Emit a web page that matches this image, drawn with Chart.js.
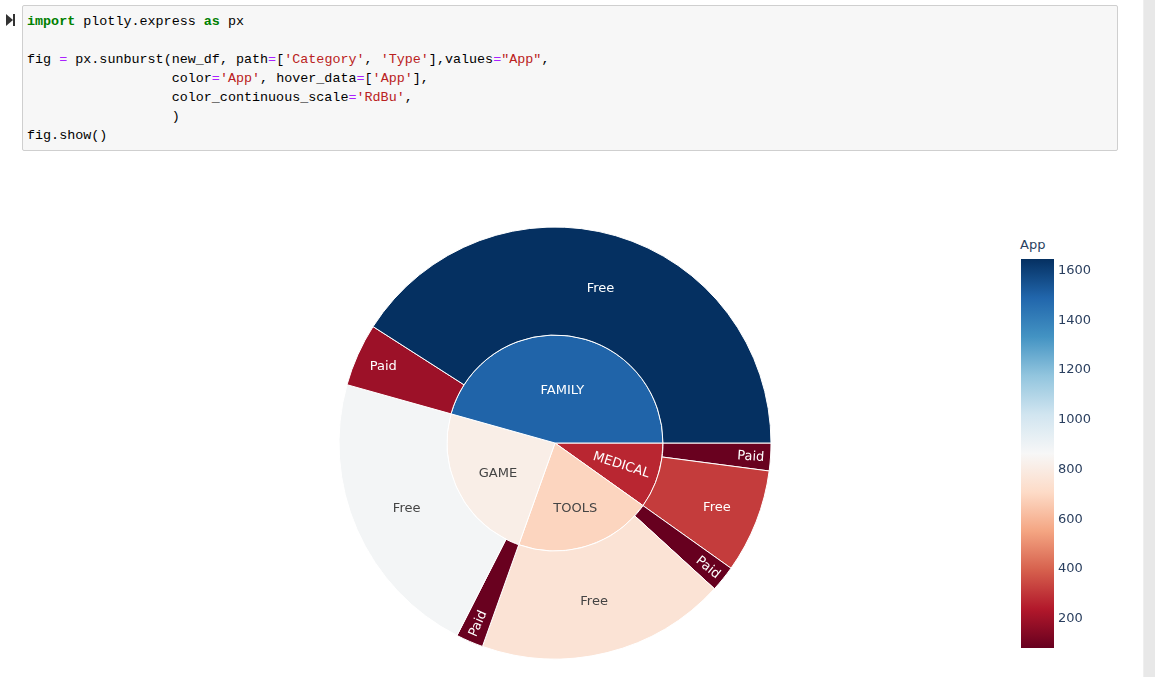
<!DOCTYPE html>
<html>
<head>
<meta charset="utf-8">
<script src="https://cdn.jsdelivr.net/npm/chart.js@4/dist/chart.umd.min.js"></script>
<style>
  html, body { margin:0; padding:0; background:#fff; }
  body { width:1155px; height:677px; overflow:hidden; position:relative; font-family:"DejaVu Sans", sans-serif; }
  #scroll { position:absolute; left:1143px; top:0; width:12px; height:677px; background:#e8e8e8; border-left:1px solid #efefef; box-sizing:border-box; }
  #cell { position:absolute; left:22px; top:5px; width:1096px; height:146px; background:#f7f7f7; border:1px solid #cfcfcf; border-radius:2px; box-sizing:border-box; }
  #code { position:absolute; left:4px; top:6px; margin:0; font-family:"Liberation Mono", monospace; font-size:13.4px; line-height:19px; color:#000; white-space:pre; }
  .k { color:#008000; font-weight:bold; }
  .o { color:#aa22ff; }
  .s { color:#ba2121; }
  #runicon { position:absolute; left:6px; top:14px; width:10px; height:12px; }
  #runicon .tri { position:absolute; left:0; top:0; width:0; height:0; border-top:6px solid transparent; border-bottom:6px solid transparent; border-left:7px solid #333; }
  #runicon .bar { position:absolute; left:7px; top:0; width:2px; height:12px; background:#333; }
  #sun { position:absolute; left:325px; top:213px; width:460px; height:460px; }
  #cbar { position:absolute; left:1000px; top:240px; width:100px; height:440px; }
  #cbtitle { position:absolute; left:1020px; top:237px; font-family:"DejaVu Sans", sans-serif; font-size:13px; color:#2a3f5f; }
</style>
</head>
<body>
<div id="runicon"><div class="tri"></div><div class="bar"></div></div>
<div id="cell"><pre id="code"><span class="k">import</span> plotly.express <span class="k">as</span> px

fig <span class="o">=</span> px.sunburst(new_df, path<span class="o">=</span>[<span class="s">'Category'</span>, <span class="s">'Type'</span>],values<span class="o">=</span><span class="s">"App"</span>,
                  color<span class="o">=</span><span class="s">'App'</span>, hover_data<span class="o">=</span>[<span class="s">'App'</span>],
                  color_continuous_scale<span class="o">=</span><span class="s">'RdBu'</span>,
                  )
fig.show()</pre></div>
<div id="scroll"></div>
<canvas id="sun" width="460" height="460"></canvas>
<div id="cbtitle">App</div>
<canvas id="cbar" width="100" height="440"></canvas>
<script>
// ---- data ----
const categories = ['FAMILY', 'GAME', 'TOOLS', 'MEDICAL'];
const types = ['Free', 'Paid'];
const freeApps = [1643, 877, 749, 312];
const paidApps = [189, 82, 78, 83];
const colorbarTicks = [200, 400, 600, 800, 1000, 1200, 1400, 1600];
const colorbarTitle = 'App';

// ---- RdBu colour scale ----
const RDBU = [[103,0,31],[178,24,43],[214,96,77],[244,165,130],[253,219,199],[247,247,247],[209,229,240],[146,197,222],[67,147,195],[33,102,172],[5,48,97]];

// parent values and colour values (weighted mean as plotly express does)
const catTotals = categories.map((c, i) => freeApps[i] + paidApps[i]);
const catColorVals = categories.map((c, i) => (freeApps[i] * freeApps[i] + paidApps[i] * paidApps[i]) / catTotals[i]);
const allColorVals = freeApps.concat(paidApps, catColorVals);
const cmin = Math.min(...allColorVals);
const cmax = Math.max(...allColorVals);

function rgbAt(t) {
  t = Math.max(0, Math.min(1, t));
  const pos = t * 10;
  let i = Math.floor(pos); if (i > 9) i = 9;
  const f = pos - i;
  const a = RDBU[i], b = RDBU[i + 1];
  return [0,1,2].map(k => Math.round(a[k] + (b[k] - a[k]) * f));
}
function colorFor(v) {
  const c = rgbAt((v - cmin) / (cmax - cmin));
  return 'rgb(' + c.join(',') + ')';
}
function textColorFor(v) {
  const c = rgbAt((v - cmin) / (cmax - cmin));
  const br = (c[0] * 299 + c[1] * 587 + c[2] * 114) / 1000;
  return br >= 128 ? '#444' : '#fff';
}

// Chart.js draws clockwise; plotly goes counter-clockwise from 3 o'clock -> reverse order
const order = categories.map((c, i) => i).reverse();
const innerValues = order.map(i => catTotals[i]);
const innerLabels = order.map(i => categories[i]);
const innerColorVals = order.map(i => catColorVals[i]);
const outerValues = [], outerLabels = [], outerColorVals = [];
order.forEach(i => {
  outerValues.push(paidApps[i]); outerLabels.push(types[1]); outerColorVals.push(paidApps[i]);
  outerValues.push(freeApps[i]); outerLabels.push(types[0]); outerColorVals.push(freeApps[i]);
});

// ---- label plugin emulating plotly's inside-text placement ----
const TEXTPAD = 3;
function maxHalf(a, halfAngle, r, ring) {
  const q = a + 1 / (2 * Math.tan(halfAngle));
  return r * Math.min(1 / (Math.sqrt(q * q + 0.5) + q), ring / (Math.sqrt(a * a + ring / 2) + a));
}
function normRot(deg) { return (((deg % 180) + 180 + 90) % 180) - 90; }

const sunLabels = {
  id: 'sunLabels',
  afterDatasetsDraw(chart) {
    const ctx = chart.ctx;
    const fontSize = 13;
    chart.data.datasets.forEach((ds, di) => {
      const meta = chart.getDatasetMeta(di);
      meta.data.forEach((arc, i) => {
        const p = arc.getProps(['x','y','startAngle','endAngle','innerRadius','outerRadius'], true);
        const label = ds.sliceLabels[i];
        ctx.save();
        ctx.font = fontSize + 'px "DejaVu Sans"';
        const w = ctx.measureText(label).width;
        const h = 16;
        const span = p.endAngle - p.startAngle;
        const half = 0.5 * Math.min(span, Math.PI);
        const rpx1 = p.outerRadius, rpx0 = p.innerRadius;
        const ring = 1 - rpx0 / rpx1;
        const rIns = Math.max(0, Math.min(1 / (1 + 1 / Math.sin(half)), ring / 2));
        const mid = (p.startAngle + p.endAngle) / 2;
        const midDeg = mid * 180 / Math.PI;
        const hT = { scale: rIns * rpx1 * 2 / Math.hypot(w, h), rCenter: 1 - rIns, rotate: 0 };
        let best = hT;
        if (hT.scale < 1) {
          const r = Math.max(0, rpx1 - 2 * TEXTPAD);
          const all = [hT];
          let a = h / w, s = maxHalf(a, half, r, ring);
          all.push({ scale: s * 2 / w, rCenter: Math.cos(s / r) - a * s / r, rotate: normRot(midDeg + 90) });
          a = w / h; s = maxHalf(a, half, r, ring);
          all.push({ scale: s * 2 / h, rCenter: Math.cos(s / r) - a * s / r, rotate: normRot(midDeg) });
          best = all[0];
          all.forEach(t => { if (t.scale > best.scale) best = t; });
        }
        const x = p.x + Math.cos(mid) * best.rCenter * rpx1;
        const y = p.y + Math.sin(mid) * best.rCenter * rpx1;
        ctx.translate(x, y);
        ctx.rotate(best.rotate * Math.PI / 180);
        const sc = Math.min(1, best.scale);
        ctx.scale(sc, sc);
        ctx.fillStyle = ds.textColors[i];
        ctx.textAlign = 'center';
        ctx.textBaseline = 'middle';
        ctx.fillText(label, 0, 1);
        ctx.restore();
      });
    });
  }
};

new Chart(document.getElementById('sun'), {
  type: 'doughnut',
  data: {
    labels: outerLabels,
    datasets: [
      {
        data: outerValues,
        sliceLabels: outerLabels,
        backgroundColor: outerColorVals.map(colorFor),
        textColors: outerColorVals.map(textColorFor),
        borderColor: '#ffffff',
        borderWidth: 1,
        hoverOffset: 0
      },
      {
        data: innerValues,
        sliceLabels: innerLabels,
        backgroundColor: innerColorVals.map(colorFor),
        textColors: innerColorVals.map(textColorFor),
        borderColor: '#ffffff',
        borderWidth: 1,
        hoverOffset: 0
      }
    ]
  },
  options: {
    responsive: false,
    animation: false,
    rotation: 90,
    cutout: 0,
    radius: 216,
    layout: { padding: 0 },
    events: [],
    plugins: { legend: { display: false }, tooltip: { enabled: false }, title: { display: false } }
  },
  plugins: [sunLabels]
});

// ---- colour bar ----
new Chart(document.getElementById('cbar'), {
  type: 'bar',
  data: {
    labels: [colorbarTitle],
    datasets: [{
      data: [[cmin, cmax]],
      barPercentage: 1,
      categoryPercentage: 1,
      borderWidth: 0,
      backgroundColor: (c) => {
        const chart = c.chart;
        const area = chart.chartArea;
        if (!area) return 'rgba(0,0,0,0)';
        const ys = chart.scales.y;
        const g = chart.ctx.createLinearGradient(0, ys.getPixelForValue(cmin), 0, ys.getPixelForValue(cmax));
        RDBU.forEach((col, k) => g.addColorStop(k / 10, 'rgb(' + col.join(',') + ')'));
        return g;
      }
    }]
  },
  options: {
    responsive: false,
    animation: false,
    events: [],
    layout: { padding: { left: 21, top: 19, right: 0, bottom: 32 } },
    plugins: { legend: { display: false }, tooltip: { enabled: false } },
    scales: {
      x: { display: false },
      y: {
        position: 'right',
        min: cmin,
        max: cmax,
        afterFit: (s) => { s.width = 46; },
        afterBuildTicks: (s) => { s.ticks = colorbarTicks.map(v => ({ value: v })); },
        grid: { display: false, drawTicks: false },
        border: { display: false },
        ticks: {
          includeBounds: false,
          autoSkip: false,
          padding: 4,
          labelOffset: 1,
          color: '#2a3f5f',
          font: { family: '"DejaVu Sans"', size: 13 },
          callback: (v) => String(v)
        }
      }
    }
  }
});
</script>
</body>
</html>
